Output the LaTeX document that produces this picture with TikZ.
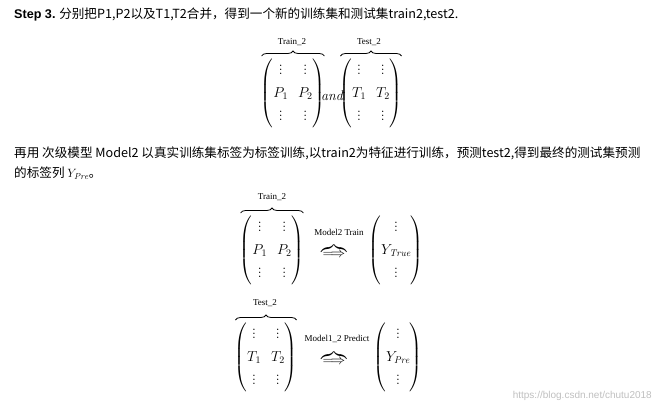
\documentclass[tikz,border=0pt]{standalone}
\usepackage{amsmath}
\usepackage{fontspec}
\usetikzlibrary{calc,decorations.pathreplacing}
\newfontfamily\cjk{Noto Sans CJK SC}
\newfontfamily\lsans{Liberation Sans}
\newfontfamily\lserif{Liberation Serif}
\tikzset{
  txt/.style={anchor=west,inner sep=0pt,font=\fontsize{12.6}{14}\selectfont\cjk},
  mat/.style={inner sep=0pt,font=\fontsize{14}{16}\selectfont},
  lbl/.style={inner sep=0pt,font=\fontsize{9}{10}\selectfont\lserif},
  arr/.style={inner sep=0pt,font=\fontsize{14}{16}\selectfont},
  brc/.style={thick,decorate,decoration={brace,amplitude=5pt}}
}
\newcommand{\mymat}[2]{\renewcommand{\arraystretch}{1.45}\begin{pmatrix}\vdots&\vdots\\#1&#2\\\vdots&\vdots\end{pmatrix}}
\newcommand{\onecol}[1]{\renewcommand{\arraystretch}{1.45}\begin{pmatrix}\vdots\\#1\\\vdots\end{pmatrix}}
\begin{document}
\begin{tikzpicture}[x=1pt,y=-1pt]
\useasboundingbox (0,0) rectangle (658,411);
\node[txt] (t1) at (14,14) {{\lsans\bfseries Step 3.} 分别把P1,P2以及T1,T2合并，得到一个新的训练集和测试集train2,test2.};
% first row
\node[mat] (m1) at (293,93) {$\mymat{P_1}{P_2}$};
\node[mat] (and) at (332,96) {$\mathit{and}$};
\node[mat] (m2) at (371,93) {$\mymat{T_1}{T_2}$};
\draw[brc] ($(m1.north west)+(1,-2)$) -- ($(m1.north east)+(-1,-2)$);
\draw[brc] ($(m2.north west)+(1,-2)$) -- ($(m2.north east)+(-1,-2)$);
\node[lbl] (l1) at (292,42) {Train\_2};
\node[lbl] (l2) at (369,42) {Test\_2};
\node[txt] (t2) at (14,153) {再用 次级模型 Model2 以真实训练集标签为标签训练,以train2为特征进行训练，预测test2,得到最终的测试集预测};
\node[txt] (t3) at (14,173) {的标签列 $Y_{\mathit{Pre}}$。};
% second
\node[mat] (m3) at (272,250) {$\mymat{P_1}{P_2}$};
\draw[brc] ($(m3.north west)+(1,-2)$) -- ($(m3.north east)+(-1,-2)$);
\node[lbl] (l3) at (272,197) {Train\_2};
\node[lbl] (a1l) at (339,232) {Model2 Train};
\node[arr] (a1) at (334,251) {$\overbrace{\Longrightarrow}$};
\node[mat] (y1) at (396,250) {$\onecol{Y_{\mathit{True}}}$};
\node[mat] (m4) at (266,357) {$\mymat{T_1}{T_2}$};
\draw[brc] ($(m4.north west)+(1,-2)$) -- ($(m4.north east)+(-1,-2)$);
\node[lbl] (l4) at (265,303) {Test\_2};
\node[lbl] (a2l) at (337,339) {Model1\_2 Predict};
\node[arr] (a2) at (334,358) {$\overbrace{\Longrightarrow}$};
\node[mat] (y2) at (398,357) {$\onecol{Y_{\mathit{Pre}}}$};
\node[anchor=east,inner sep=0pt,text=black!25,font=\fontsize{10}{12}\selectfont\lsans] (wm) at (652,396) {https://blog.csdn.net/chutu2018};
\end{tikzpicture}
\end{document}
